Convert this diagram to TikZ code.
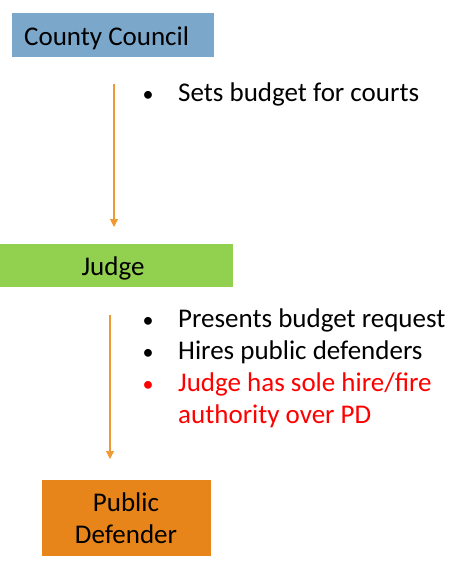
\documentclass[tikz,border=0pt]{standalone}
\usepackage{fontspec}
\setmainfont{Carlito}
\usetikzlibrary{arrows.meta}
\definecolor{ccblue}{HTML}{7BA7CB}
\definecolor{jgreen}{HTML}{92D050}
\definecolor{pdorange}{HTML}{E8851A}
\definecolor{arrorange}{HTML}{EE9A35}
\definecolor{redtxt}{HTML}{FF0000}
\tikzset{
  box/.style={draw=none, inner sep=0pt, text=black},
  lbl/.style={inner sep=0pt, font=\fontsize{27}{32}\selectfont},
  flow/.style={draw=arrorange, line width=1.1pt, -{Triangle[width=8pt,length=8pt]}},
  bul/.style={anchor=base, inner sep=0pt, font=\fontsize{22}{32}\selectfont},
  itm/.style={anchor=base west, inner sep=0pt, font=\fontsize{27}{32}\selectfont, align=left},
}
\begin{document}
\begin{tikzpicture}[x=1pt,y=-1pt]
\useasboundingbox (0,0) rectangle (451,561);
% boxes
\node[box, fill=ccblue, minimum width=202pt, minimum height=44pt, anchor=north west] (cc) at (12,13) {};
\node[lbl, anchor=base west] (cct) at (24,46) {County Council};
\node[box, fill=jgreen, minimum width=233pt, minimum height=43pt, anchor=north west] (jb) at (0,244) {};
\node[lbl, anchor=base] (jt) at (113,275) {Judge};
\node[box, fill=pdorange, minimum width=169pt, minimum height=76pt, anchor=north west] (pb) at (42,480) {};
\node[lbl, anchor=base] (pt1) at (126,511) {Public};
\node[lbl, anchor=base] (pt2) at (126,543) {Defender};
% arrows
\coordinate (a1s) at (114,84);
\coordinate (a1e) at (114,227);
\coordinate (a2s) at (110,315);
\coordinate (a2e) at (110,459);
\draw[flow] (a1s) -- (a1e);
\draw[flow] (a2s) -- (a2e);
% bullets
\node[bul] (b1) at (148,102) {\textbullet};
\node[itm] (t1) at (178,102) {Sets budget for courts};
\node[bul] (b2) at (148,327) {\textbullet};
\node[itm] (t2) at (178,327) {Presents budget request};
\node[bul] (b3) at (148,359) {\textbullet};
\node[itm] (t3) at (178,359) {Hires public defenders};
\node[bul, text=redtxt] (b4) at (148,391) {\textbullet};
\node[itm, text=redtxt] (t4) at (178,391) {Judge has sole hire/fire};
\node[itm, text=redtxt] (t5) at (178,423) {authority over PD};
\end{tikzpicture}
\end{document}
